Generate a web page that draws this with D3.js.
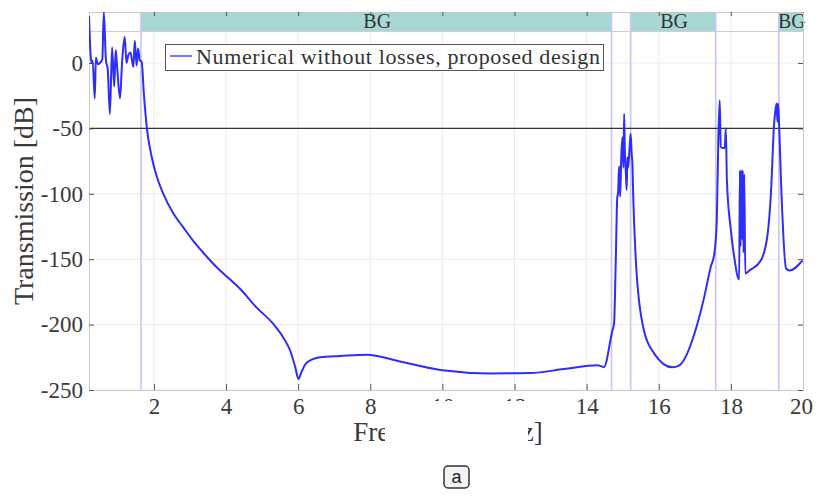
<!DOCTYPE html>
<html>
<head>
<meta charset="utf-8">
<script src="https://cdn.jsdelivr.net/npm/d3@7"></script>
<style>
  body { margin: 0; background: #fff; }
  svg { display: block; font-family: 'Liberation Serif', serif; }
</style>
</head>
<body>
<svg id="svg"></svg>
<script>
// Frequency [GHz] and transmission [dB]
const freq = [0.20, 0.27, 0.30, 0.36, 0.39, 0.45, 0.50, 0.57, 0.61, 0.67, 0.72, 0.78, 0.84, 0.90, 0.94, 0.98,
  1.06, 1.12, 1.19, 1.24, 1.29, 1.35, 1.43, 1.47, 1.52, 1.56, 1.61, 1.66, 1.72, 1.81, 1.94, 2.07, 2.26, 2.54,
  2.81, 3.09, 3.40, 3.70, 4.05, 4.40, 4.85, 5.31, 5.59, 5.78, 5.92, 6.01, 6.08, 6.24, 6.61, 7.17, 7.91, 8.74,
  9.94, 11.33, 12.44, 13.37, 14.30, 14.48, 14.71, 14.76, 14.81, 14.85, 14.87, 14.90, 14.93, 14.96, 14.99, 15.02,
  15.04, 15.06, 15.09, 15.11, 15.13, 15.15, 15.19, 15.22, 15.25, 15.27, 15.29, 15.36, 15.55, 15.87, 16.38, 16.56,
  17.07, 17.26, 17.44, 17.54, 17.61, 17.65, 17.69, 17.72, 17.77, 17.83, 17.86, 17.89, 18.00, 18.09, 18.23, 18.25,
  18.27, 18.29, 18.31, 18.33, 18.35, 18.37, 18.40, 18.51, 18.83, 19.02, 19.11, 19.20, 19.24, 19.27, 19.29, 19.31,
  19.34, 19.39, 19.53, 19.62, 19.99];
const transmission = [36, 0, 2, -27, 4, -1, 0, 3, 39, 2, -5, -39, 12, -18, 10, -3,
  -27, 2, 20, 0, 6, 8, -3, 17, -2, 11, 2, 1, -23, -51, -72, -86, -100, -115,
  -125.5, -136, -146, -155, -164, -173, -187, -199.5, -210, -220, -232.7, -241.6, -237, -229, -225, -224, -223, -227.6,
  -234.7, -237.3, -237, -234, -231, -232.5, -205, -199.5, -148.5, -102.5, -100, -79, -102, -72, -57, -80,
  -39, -67, -85, -97, -72, -80, -65, -54, -70, -77, -100, -148.5, -199.5, -222, -232.7, -231.4,
  -199.5, -179, -156, -146, -120, -60, -28.5, -64, -65, -65, -50, -90, -128, -148, -165.6, -82,
  -140, -82, -135, -82, -145, -85, -161, -158.7, -151, -130.6, -100, -46, -35, -31, -45, -31,
  -49, -90, -157, -158.7, -151];

// Band-gap regions [start, end] in GHz
const bandGaps = [[1.64, 14.69], [15.22, 17.58], [19.33, 20]];
const bandEdges = [1.64, 14.69, 15.22, 17.58, 19.33];
const xTicks = [2, 4, 6, 8, 10, 12, 14, 16, 18, 20];
const yTicks = [0, -50, -100, -150, -200, -250];
const thresholdDb = -50;
const seriesName = 'Numerical without losses, proposed design';

const width = 822, height = 497;
const plotLeft = 89, plotRight = 803, plotTop = 12, plotBottom = 390, stripBottom = 31.5;
const lineColor = '#2d2dff';

const x = d3.scaleLinear().domain([0.2, 20]).range([plotLeft, plotRight]);
const y = d3.scaleLinear().domain([-250, 39]).range([plotBottom, plotTop]);

const svg = d3.select('#svg').attr('width', width).attr('height', height);

svg.append('defs').append('clipPath').attr('id', 'plot')
  .append('rect')
    .attr('x', plotLeft).attr('y', plotTop)
    .attr('width', plotRight - plotLeft).attr('height', plotBottom - plotTop);

// grid
svg.append('g')
  .selectAll('line')
  .data(xTicks.slice(0, -1))
  .enter()
  .append('line')
    .attr('x1', d => x(d)).attr('x2', d => x(d))
    .attr('y1', plotTop).attr('y2', plotBottom)
    .attr('stroke', '#ececec').attr('stroke-width', 1);
svg.append('g')
  .selectAll('line')
  .data(yTicks.slice(0, -1))
  .enter()
  .append('line')
    .attr('x1', plotLeft).attr('x2', plotRight)
    .attr('y1', d => y(d)).attr('y2', d => y(d))
    .attr('stroke', '#ececec').attr('stroke-width', 1);

// band-gap strip on top
svg.append('g')
  .selectAll('rect')
  .data(bandGaps)
  .enter()
  .append('rect')
    .attr('x', d => x(d[0]))
    .attr('y', plotTop)
    .attr('width', d => x(d[1]) - x(d[0]))
    .attr('height', stripBottom - plotTop)
    .attr('fill', '#a8d8d4');
svg.append('line')
  .attr('x1', plotLeft).attr('x2', plotRight)
  .attr('y1', stripBottom).attr('y2', stripBottom)
  .attr('stroke', '#cfcfcf');
svg.append('g')
  .selectAll('text')
  .data(bandGaps)
  .enter()
  .append('text')
    .attr('x', d => (x(d[0]) + x(d[1])) / 2 + 1)
    .attr('y', 28)
    .attr('text-anchor', 'middle')
    .attr('font-size', '20px')
    .attr('fill', '#333')
    .text('BG');

// band edges
svg.append('g')
  .selectAll('line')
  .data(bandEdges)
  .enter()
  .append('line')
    .attr('x1', d => x(d)).attr('x2', d => x(d))
    .attr('y1', plotTop).attr('y2', plotBottom)
    .attr('stroke', '#c6c6ff').attr('stroke-width', 1.6);

// -50 dB reference
svg.append('line')
  .attr('x1', plotLeft).attr('x2', plotRight)
  .attr('y1', y(thresholdDb)).attr('y2', y(thresholdDb))
  .attr('stroke', '#333').attr('stroke-width', 1.2);

// axes
const xAxis = svg.append('g')
  .attr('transform', `translate(0,${plotBottom})`)
  .call(d3.axisBottom(x).tickValues(xTicks).tickSize(-6).tickPadding(8).tickSizeOuter(0));
const xAxisTop = svg.append('g')
  .attr('transform', `translate(0,${plotTop})`)
  .call(d3.axisTop(x).tickValues(xTicks).tickSize(-4).tickFormat('').tickSizeOuter(0));
const yAxis = svg.append('g')
  .attr('transform', `translate(${plotLeft},0)`)
  .call(d3.axisLeft(y).tickValues(yTicks).tickSize(-5).tickPadding(6).tickSizeOuter(0));
const yAxisRight = svg.append('g')
  .attr('transform', `translate(${plotRight},0)`)
  .call(d3.axisRight(y).tickValues(yTicks).tickSize(-5).tickFormat('').tickSizeOuter(0));

[xAxis, xAxisTop, yAxis, yAxisRight].forEach(a => {
  a.select('.domain').attr('stroke', '#c8c8c8');
  a.selectAll('.tick line').attr('stroke', '#555');
  a.selectAll('text')
    .attr('font-family', 'Liberation Serif, serif')
    .attr('font-size', '23px')
    .attr('fill', '#3a3a3a');
});
xAxis.selectAll('.tick').filter(d => d === 20).select('text').attr('dx', '-2');
yAxis.selectAll('text').text(d => String(d));

// transmission curve
const pts = freq.map((f, i) => [f, transmission[i]]);
const line = d3.line()
  .x(d => x(d[0]))
  .y(d => y(d[1]))
  .curve(d3.curveMonotoneX);
svg.append('path')
  .datum(pts)
  .attr('clip-path', 'url(#plot)')
  .attr('fill', 'none')
  .attr('stroke', lineColor)
  .attr('stroke-width', 2)
  .attr('stroke-linejoin', 'round')
  .attr('d', line);

// legend
const legend = svg.append('g');
legend.append('rect')
  .attr('x', 165.5).attr('y', 44.5).attr('width', 438).attr('height', 26)
  .attr('fill', '#fff').attr('stroke', '#555').attr('stroke-width', 1);
legend.append('line')
  .attr('x1', 170).attr('x2', 192).attr('y1', 56).attr('y2', 56)
  .attr('stroke', '#7474ff').attr('stroke-width', 2);
legend.append('text')
  .attr('x', 196).attr('y', 64)
  .attr('font-size', '22px')
  .attr('fill', '#333')
  .attr('textLength', 404)
  .text(seriesName);

// axis titles
svg.append('text')
  .attr('transform', `translate(33,${(plotTop + plotBottom) / 2}) rotate(-90)`)
  .attr('text-anchor', 'middle')
  .attr('font-size', '28px')
  .attr('fill', '#3a3a3a')
  .text('Transmission [dB]');
svg.append('text')
  .attr('x', 448).attr('y', 441)
  .attr('text-anchor', 'middle')
  .attr('font-size', '27px')
  .attr('fill', '#3a3a3a')
  .text('Frequency [GHz]');

// white patch hiding the middle of the x title, as in the source image
svg.append('rect')
  .attr('x', 385).attr('y', 401).attr('width', 143).attr('height', 50)
  .attr('fill', '#fff');

// panel label
const tag = svg.append('g');
tag.append('rect')
  .attr('x', 444).attr('y', 466).attr('width', 25).attr('height', 22).attr('rx', 4)
  .attr('fill', '#f3f3f3').attr('stroke', '#333').attr('stroke-width', 1.5);
tag.append('text')
  .attr('x', 456.5).attr('y', 483)
  .attr('text-anchor', 'middle')
  .attr('font-family', 'Liberation Sans, sans-serif')
  .attr('font-size', '18px')
  .attr('fill', '#222')
  .text('a');
</script>
</body>
</html>
